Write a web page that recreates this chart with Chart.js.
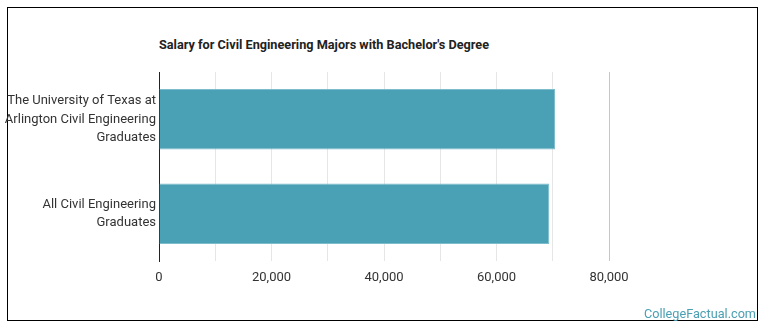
<!DOCTYPE html>
<html>
<head>
<meta charset="utf-8">
<script src="https://cdn.jsdelivr.net/npm/chart.js@4/dist/chart.umd.min.js"></script>
<style>
  body { margin: 0; background: #fff; }
  #wrap { position: relative; width: 770px; height: 335px; }
  #frame { position: absolute; left: 7px; top: 7px; width: 751px; height: 314px; border: 1px solid #000; box-sizing: border-box; }
  #title { position: absolute; left: 159px; top: 37px; font: bold 12.7px Roboto, sans-serif; color: #222; white-space: nowrap; }
  #brand { position: absolute; right: 14px; top: 306px; font: 12.7px Roboto, sans-serif; color: #4a9fb2; }
  canvas { position: absolute; left: 0; top: 0; }
</style>
</head>
<body>
<div id="wrap">
  <div id="frame"></div>
  <div id="title">Salary for Civil Engineering Majors with Bachelor's Degree</div>
  <canvas id="myChart" width="770" height="335"></canvas>
  <div id="brand">CollegeFactual.com</div>
</div>
<script>
const categories = [
    ['The University of Texas at', 'Arlington Civil Engineering', 'Graduates'],
    ['All Civil Engineering', 'Graduates']
];
const salaries = [70400, 69400];
const tickLabels = ['0', '20,000', '40,000', '60,000', '80,000'];

const ctx = document.getElementById('myChart');

new Chart(ctx, {
    type: 'bar',
    data: {
        labels: categories,
        datasets: [{
            data: salaries,
            backgroundColor: '#4aa0b4',
            borderColor: '#7dbccb',
            borderWidth: 1,
            barPercentage: 0.8,
            categoryPercentage: 0.8
        }]
    },
    options: {
        responsive: false,
        animation: false,
        indexAxis: 'y',
        layout: { padding: { top: 72, right: 161, left: 0, bottom: 0 } },
        plugins: {
            legend: { display: false },
            tooltip: { enabled: false }
        },
        scales: {
            x: {
                min: 0,
                max: 80000,
                ticks: {
                    stepSize: 10000,
                    padding: 9,
                    color: '#333',
                    font: { size: 13, family: 'Roboto, sans-serif' },
                    callback: (v) => v % 20000 === 0 ? tickLabels[v / 20000] : ''
                },
                grid: {
                    drawTicks: false,
                    color: (c) => c.tick && c.tick.value === 80000 ? '#c6c6c6' : '#e6e6e6'
                },
                border: { display: false },
                afterFit: (s) => { s.height = 74; }
            },
            y: {
                ticks: {
                    padding: 3,
                    color: '#333',
                    font: { size: 13, family: 'Roboto, sans-serif', lineHeight: 1.4 }
                },
                grid: { display: false, drawTicks: false },
                border: { display: true, color: '#222', width: 1 },
                afterFit: (s) => { s.width = 159; }
            }
        }
    }
});
</script>
</body>
</html>
